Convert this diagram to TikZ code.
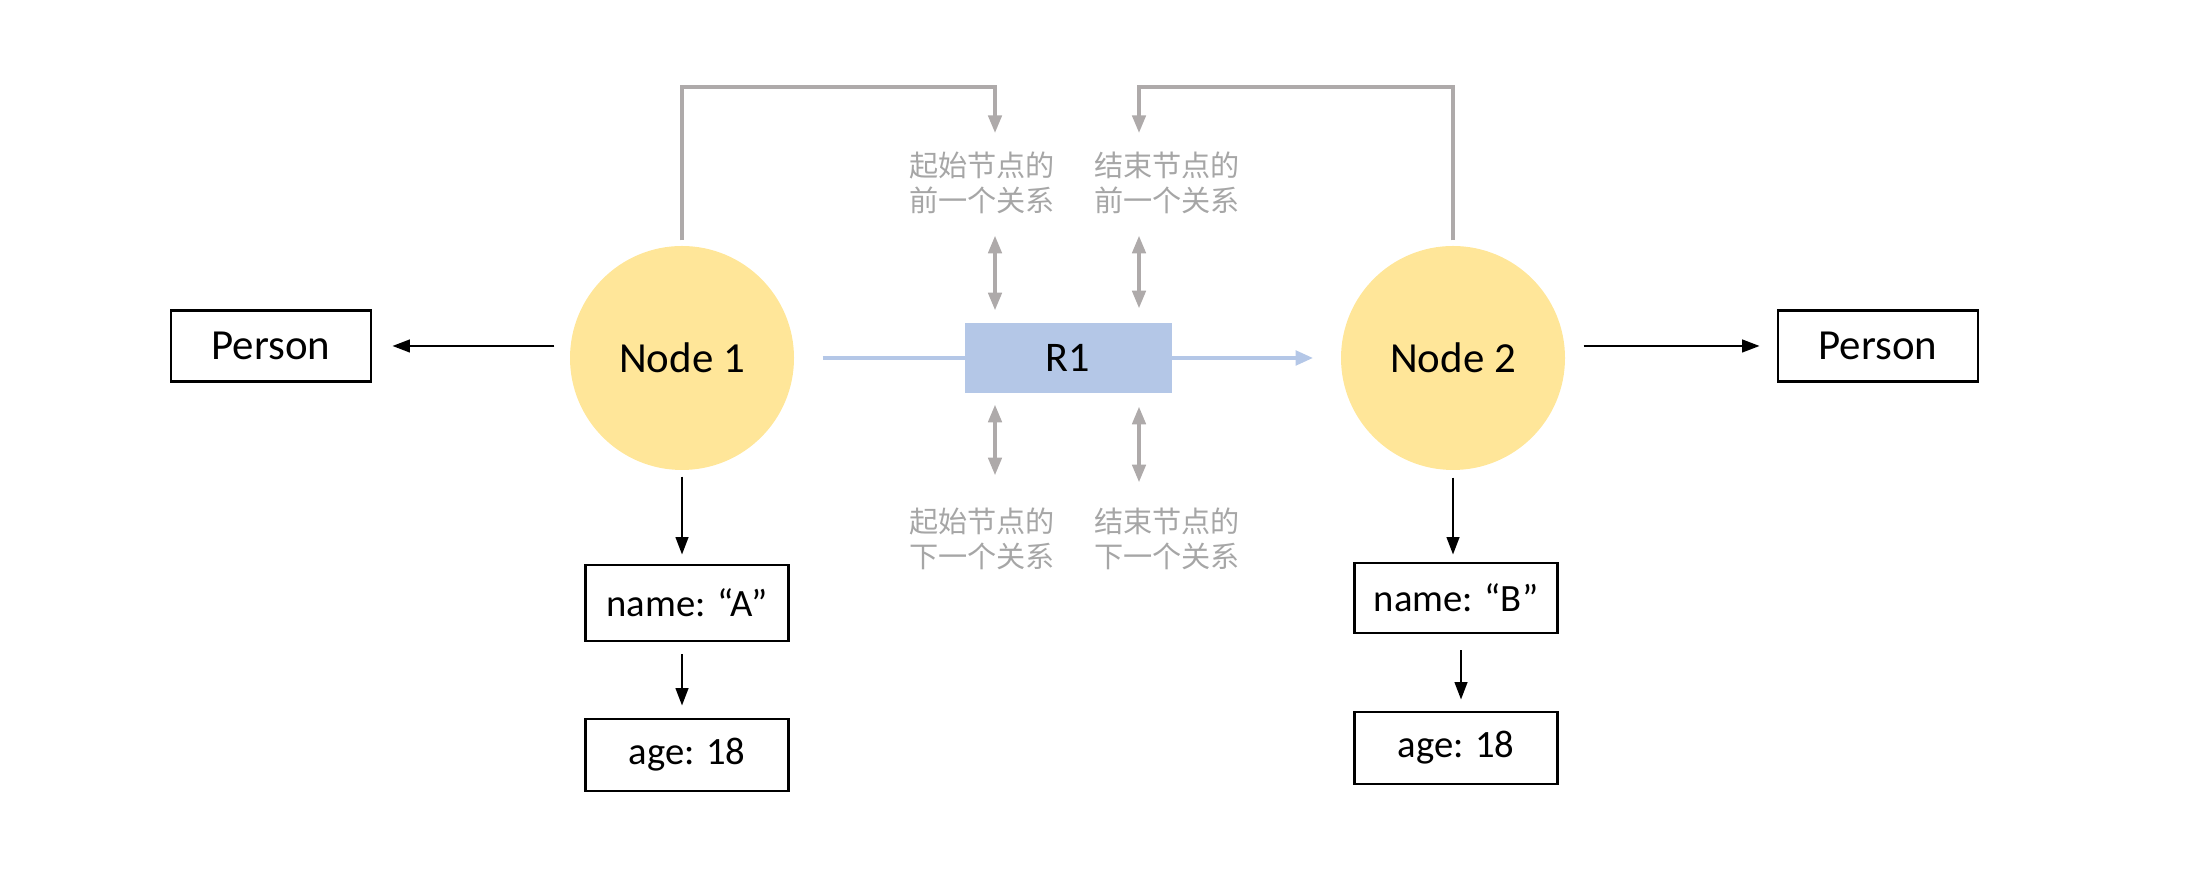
\documentclass[tikz,border=0pt]{standalone}
\usepackage{fontspec}
\setmainfont{Carlito}
\newfontfamily\cjk{Noto Sans CJK SC}
\usetikzlibrary{arrows.meta}
\definecolor{nodeyellow}{HTML}{FFE699}
\definecolor{relblue}{HTML}{B4C7E7}
\definecolor{ptrgrey}{HTML}{AEAAAA}
\definecolor{ptrtext}{HTML}{A6A6A6}
\tikzset{
  entity/.style={circle,fill=nodeyellow,minimum size=2.24cm,inner sep=0pt,
    font=\fontsize{12.2}{14}\selectfont},
  labelbox/.style={draw,line width=0.8pt,minimum width=2cm,minimum height=0.71cm,
    inner sep=0pt,font=\fontsize{12.2}{14}\selectfont},
  propbox/.style={draw,line width=0.8pt,minimum width=2.03cm,minimum height=0.72cm,
    inner sep=0pt,font=\fontsize{11}{13}\selectfont},
  relbox/.style={fill=relblue,minimum width=2.07cm,minimum height=0.7cm,
    inner sep=0pt,font=\fontsize{12}{14}\selectfont},
  ptrlabel/.style={text=ptrtext,align=center,inner sep=0pt,
    font=\cjk\fontsize{8.3}{10}\selectfont},
  blkarrow/.style={-{Triangle[length=5pt,width=3.6pt]},line width=0.7pt},
  ptrline/.style={ptrgrey,line width=1pt,-{Triangle[length=5pt,width=3.8pt]}},
  ptrboth/.style={ptrgrey,line width=1pt,
    {Triangle[length=5pt,width=3.8pt]}-{Triangle[length=5pt,width=3.8pt]}},
  relline/.style={relblue,line width=1.3pt,-{Triangle[length=5pt,width=4pt]}}
}

\begin{document}
\begin{tikzpicture}
  \useasboundingbox (0,0) rectangle (21.97,8.87);
  % Nodes
  \node[entity] (n1) at (6.82,5.29) {Node 1};
  \node[entity] (n2) at (14.53,5.29) {Node 2};
  % Relationship line, box on top
  \draw[relline,shorten <=0.28cm,shorten >=0.27cm] (n1.east) -- (n2.west);
  \node[relbox] (r1) at (10.68,5.29) {R1};
  % Labels
  \node[labelbox] (pl) at (2.71,5.41) {Person};
  \node[labelbox] (pr) at (18.78,5.41) {Person};
  % Properties
  \node[propbox,minimum height=0.76cm] (na) at (6.87,2.84) {name: “A”};
  \node[propbox] (aa) at (6.87,1.32) {age: 18};
  \node[propbox,minimum height=0.70cm] (nb) at (14.56,2.89) {name: “B”};
  \node[propbox] (ab) at (14.56,1.39) {age: 18};
  % Pointer texts
  \node[ptrlabel] (sp) at (9.82,7.04) {起始节点的\\前一个关系};
  \node[ptrlabel] (ep) at (11.67,7.04) {结束节点的\\前一个关系};
  \node[ptrlabel] (sn) at (9.82,3.48) {起始节点的\\下一个关系};
  \node[ptrlabel] (en) at (11.67,3.48) {结束节点的\\下一个关系};
  \coordinate (sx) at (9.95,8.00);
  \coordinate (ex) at (11.39,8.00);
  \coordinate (sxtip) at (9.95,7.54);
  \coordinate (extip) at (11.39,7.54);
  % Black arrows
  \draw[blkarrow,shorten <=0.15cm,shorten >=0.2cm] (pl.east -| n1.west) -- (pl.east);
  \draw[blkarrow,shorten <=0.18cm,shorten >=0.17cm] (pr.west -| n2.east) -- (pr.west);
  \draw[blkarrow,shorten <=0.06cm,shorten >=0.09cm] (n1.south) -- (n1.south |- na.north);
  \draw[blkarrow,shorten <=0.12cm,shorten >=0.12cm] (na.south -| n1.south) -- (aa.north -| n1.south);
  \draw[blkarrow,shorten <=0.07cm,shorten >=0.07cm] (n2.south) -- (n2.south |- nb.north);
  \draw[blkarrow,shorten <=0.16cm,shorten >=0.11cm] ([xshift=0.05cm]nb.south) -- ([xshift=0.05cm]ab.north);
  % Grey pointers
  \draw[ptrline,shorten <=0.05cm] (n1.north) |- (sx) -- (sxtip);
  \draw[ptrline,shorten <=0.05cm] (n2.north) |- (ex) -- (extip);
  \draw[ptrboth,shorten <=0.12cm,shorten >=0.21cm] (r1.north -| sx) -- (sp.south -| sx);
  \draw[ptrboth,shorten <=0.14cm,shorten >=0.21cm] (r1.north -| ex) -- (ep.south -| ex);
  \draw[ptrboth,shorten <=0.11cm,shorten >=0.32cm] (r1.south -| sx) -- (sn.north -| sx);
  \draw[ptrboth,shorten <=0.13cm,shorten >=0.25cm] (r1.south -| ex) -- (en.north -| ex);
\end{tikzpicture}
\end{document}
